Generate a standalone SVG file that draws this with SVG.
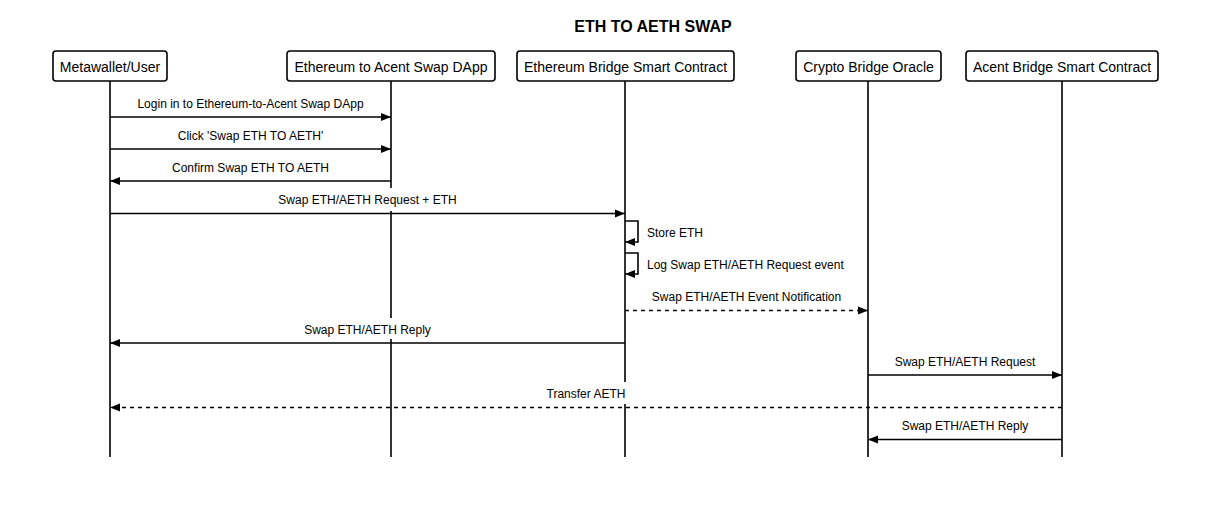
<svg xmlns="http://www.w3.org/2000/svg" width="1208" height="526" viewBox="0 0 1208 526">
<style>
text{font-family:"Liberation Sans",Arial,sans-serif;fill:#000}
.title{font-size:16px;font-weight:bold}
.node rect{fill:#fff;stroke:#000;stroke-width:1.6}
.node text{font-size:14px}
.life{stroke:#000;stroke-width:1.6}
.msg{stroke:#000;stroke-width:1.6;fill:none}
.dash{stroke-dasharray:4 4}
.lbl{font-size:12px}
.bg{fill:#fff}
</style>
<defs>
<marker id="ah" viewBox="0 0 10 10" refX="10" refY="5" markerWidth="10" markerHeight="10" markerUnits="userSpaceOnUse" orient="auto">
<path d="M0,1 L10,5 L0,9 Z" fill="#000"/>
</marker>
</defs>
<rect width="1208" height="526" fill="#fff"/>
<text class="title" x="653" y="32" text-anchor="middle">ETH TO AETH SWAP</text>

<g id="lifelines">
<line class="life" x1="110" y1="81" x2="110" y2="457"/>
<line class="life" x1="391" y1="81" x2="391" y2="457"/>
<line class="life" x1="625" y1="81" x2="625" y2="457"/>
<line class="life" x1="868" y1="81" x2="868" y2="457"/>
<line class="life" x1="1062" y1="81" x2="1062" y2="457"/>
</g>

<g id="n1" class="node"><rect x="53" y="51" width="114" height="30" rx="3"/><text x="110" y="71.5" text-anchor="middle">Metawallet/User</text></g>
<g id="n2" class="node"><rect x="287" y="51" width="208" height="30" rx="3"/><text x="391" y="71.5" text-anchor="middle">Ethereum to Acent Swap DApp</text></g>
<g id="n3" class="node"><rect x="517" y="51" width="217" height="30" rx="3"/><text x="625.5" y="71.5" text-anchor="middle">Ethereum Bridge Smart Contract</text></g>
<g id="n4" class="node"><rect x="796" y="51" width="145" height="30" rx="3"/><text x="868.5" y="71.5" text-anchor="middle">Crypto Bridge Oracle</text></g>
<g id="n5" class="node"><rect x="966" y="51" width="192" height="30" rx="3"/><text x="1062" y="71.5" text-anchor="middle">Acent Bridge Smart Contract</text></g>

<g id="connectors">
<line class="msg" x1="110" y1="117" x2="391" y2="117" marker-end="url(#ah)"/>
<text class="lbl" x="250.5" y="108" text-anchor="middle">Login in to Ethereum-to-Acent Swap DApp</text>

<line class="msg" x1="110" y1="149" x2="391" y2="149" marker-end="url(#ah)"/>
<text class="lbl" x="250.5" y="140" text-anchor="middle">Click 'Swap ETH TO AETH'</text>

<line class="msg" x1="391" y1="181" x2="110" y2="181" marker-end="url(#ah)"/>
<text class="lbl" x="250.5" y="172" text-anchor="middle">Confirm Swap ETH TO AETH</text>

<rect class="bg" x="274" y="188" width="188" height="23"/>
<line class="msg" x1="110" y1="213.5" x2="625" y2="213.5" marker-end="url(#ah)"/>
<text class="lbl" x="367.5" y="204" text-anchor="middle">Swap ETH/AETH Request + ETH</text>

<path class="msg" d="M625,221 H638 V242 H625" marker-end="url(#ah)"/>
<text class="lbl" x="647" y="237">Store ETH</text>

<path class="msg" d="M625,253 H638 V274 H625" marker-end="url(#ah)"/>
<text class="lbl" x="647" y="269">Log Swap ETH/AETH Request event</text>

<line class="msg dash" x1="625" y1="310.5" x2="868" y2="310.5" marker-end="url(#ah)"/>
<text class="lbl" x="746.5" y="301" text-anchor="middle">Swap ETH/AETH Event Notification</text>

<rect class="bg" x="300" y="318" width="136" height="21"/>
<line class="msg" x1="625" y1="343" x2="110" y2="343" marker-end="url(#ah)"/>
<text class="lbl" x="367.5" y="334" text-anchor="middle">Swap ETH/AETH Reply</text>

<line class="msg" x1="868" y1="375" x2="1062" y2="375" marker-end="url(#ah)"/>
<text class="lbl" x="965" y="366" text-anchor="middle">Swap ETH/AETH Request</text>

<rect class="bg" x="543" y="382" width="87" height="22"/>
<line class="msg dash" x1="1062" y1="407.5" x2="110" y2="407.5" marker-end="url(#ah)"/>
<text class="lbl" x="586" y="398" text-anchor="middle">Transfer AETH</text>

<line class="msg" x1="1062" y1="439.5" x2="868" y2="439.5" marker-end="url(#ah)"/>
<text class="lbl" x="965" y="430" text-anchor="middle">Swap ETH/AETH Reply</text>
</g>
</svg>
